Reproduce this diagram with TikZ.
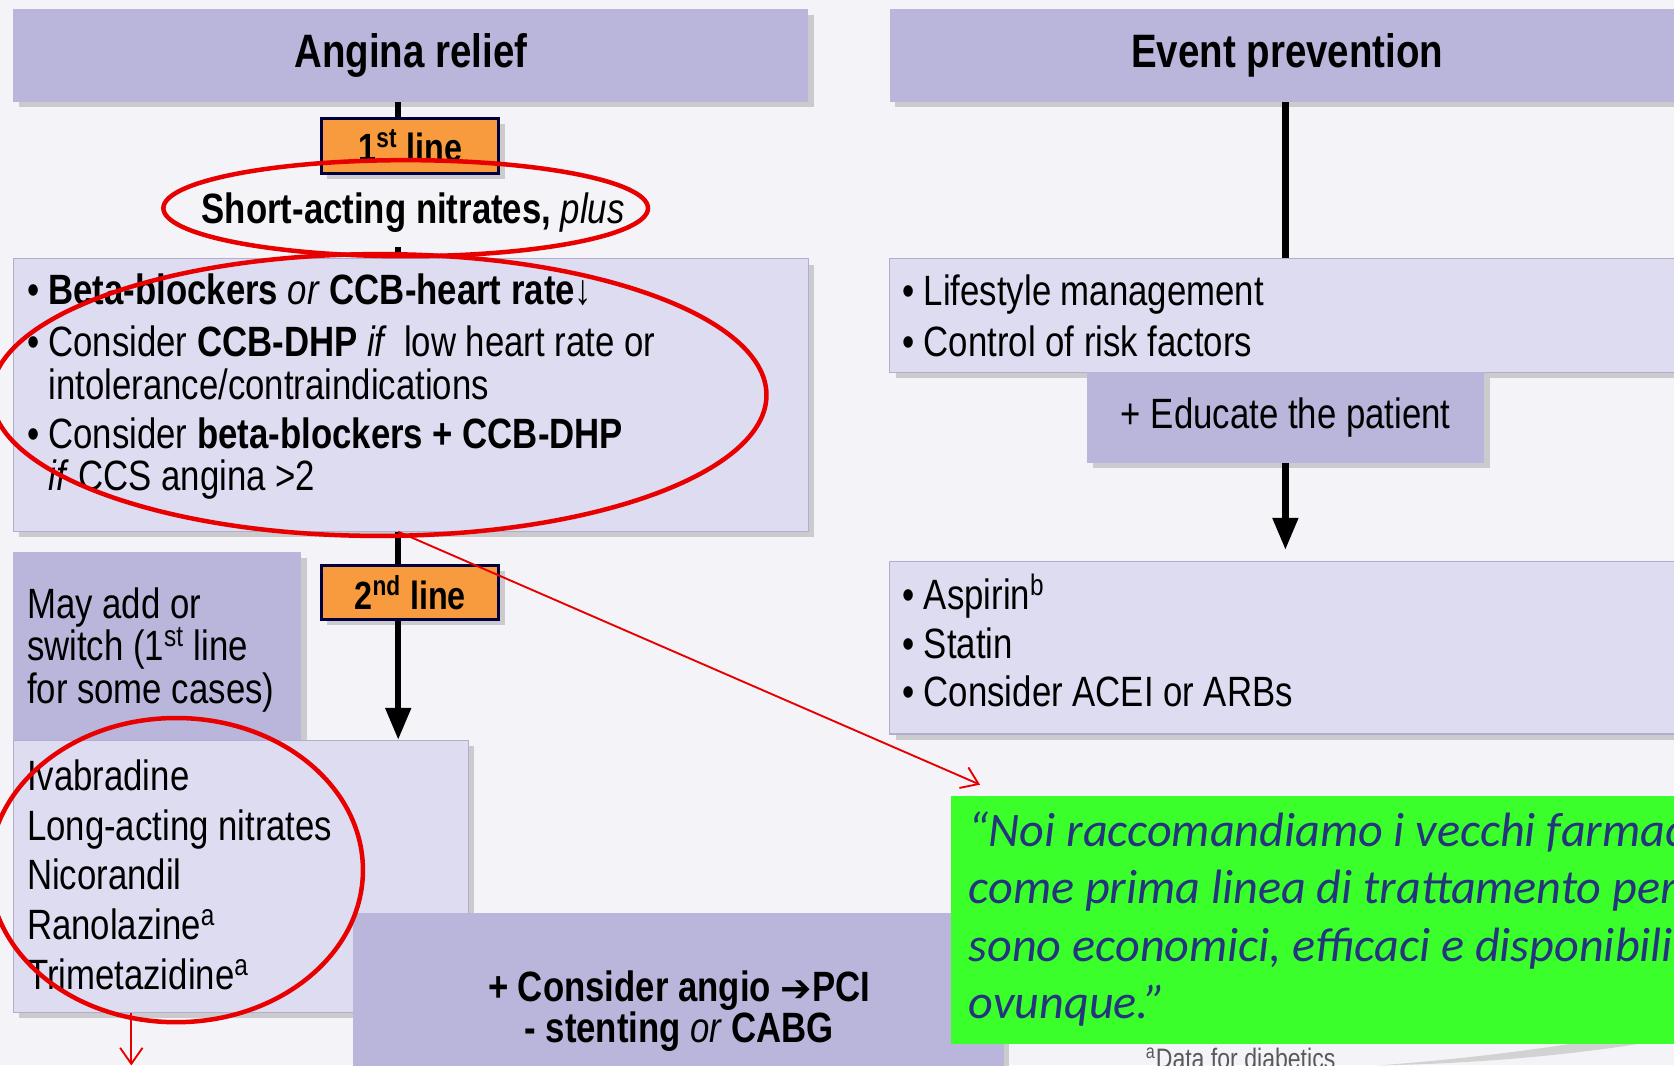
\documentclass[tikz,border=0pt]{standalone}
\usepackage{fontspec}
\setmainfont[FakeStretch=0.82]{Liberation Sans}
\newfontfamily\quotefont{Carlito}
\newfontfamily\arrowfont{DejaVu Sans}
\usetikzlibrary{arrows.meta,positioning,shapes.geometric,shadows}

\definecolor{hdrblue}{RGB}{185,181,219}
\definecolor{paleblue}{RGB}{222,220,240}
\definecolor{lineorange}{RGB}{247,155,62}
\definecolor{quotegreen}{RGB}{58,255,42}
\definecolor{quoteink}{RGB}{36,52,125}
\definecolor{bgpaper}{RGB}{244,243,247}
\definecolor{ringred}{RGB}{232,0,0}

\newcommand\bul{\makebox[0.4cm][l]{•}}
\newcommand\hang{\hspace*{0.4cm}}

\begin{document}
\lineskiplimit=-8pt
\begin{tikzpicture}[x=0.02cm,y=-0.02cm]
    \tikzset{box/.style= {rectangle, anchor=north west, inner sep=0pt
    , drop shadow={shadow xshift=3pt, shadow yshift=-3pt, opacity=0.35}
      }
    , hdr/.style={box, fill=hdrblue
    , font=\fontsize{25}{30}\selectfont\bfseries}
    , pale/.style={box, fill=paleblue, draw=hdrblue!85!gray, line width=0.6pt}
    , deep/.style={box, fill=hdrblue}
    , linetag/.style={box, fill=lineorange, draw=black!75!blue, line width=1.5pt
    , minimum width=3.32cm, minimum height=1.02cm
    , font=\fontsize{21}{24}\selectfont\bfseries}
    , txt/.style={anchor=north west, inner sep=0pt, align=left
    , font=\fontsize{22.6}{22.7}\selectfont}
    , ring/.style={ellipse, draw=ringred, line width=2.4pt, inner sep=0pt}
    , trunk/.style={black, line width=3.4pt}
    , trunkarrow/.style={trunk, -{Triangle[length=0.6cm,width=0.46cm]}}
    , pointer/.style={ringred, line width=1pt, -{Straight Barb[length=0.3cm,width=0.42cm]}}
    }

\useasboundingbox (0,0) rectangle (1568,998);
\clip (0,0) rectangle (1568,998);
\fill[bgpaper] (0,0) rectangle (1568,998);
\fill[gray!35] (1290,998) .. controls (1400,990) and (1500,975) .. (1568,960)
  -- (1568,972) .. controls (1500,985) and (1400,996) .. (1290,998) -- cycle;

\coordinate (spineL) at (373,0);
\coordinate (spineR) at (1204,0);

% left column: angina relief
\node[hdr, minimum width=14.9cm, minimum height=1.74cm] (angina) at (12,8) {Angina relief};
\node[linetag] (first) at (300,110) {1\textsuperscript{st} line};
\node[inner sep=0pt, minimum height=1.28cm, font=\fontsize{22.6}{26}\selectfont\bfseries]
  (shortact) at (387,199) {Short-acting nitrates, {\normalfont\itshape plus}};

\node[pale, minimum width=14.9cm, minimum height=5.1cm] (stepone) at (12,242) {};
\node[txt] (steponetxt) at (25,256) {\bul\textbf{Beta-blockers} \textit{or} \textbf{CCB-heart rate↓}\\[0.18cm]
  \bul Consider \textbf{CCB-DHP} \textit{if}\, low heart rate or\\
  \hang intolerance/contraindications\\[0.12cm]
  \bul Consider \textbf{beta-blockers + CCB-DHP}\\
  \hang\textit{if} CCS angina >2};

\node[linetag] (second) at (300,528) {2\textsuperscript{nd} line};
\node[deep, minimum width=5.4cm, minimum height=3.52cm] (mayadd) at (12,517) {};
\node[txt] (mayaddtxt) at (25,550) {May add or\\ switch (1\textsuperscript{st} line\\ for some cases)};

\node[pale, minimum width=8.52cm, minimum height=5.1cm] (steptwo) at (12,693) {};
\node[txt, font=\fontsize{22.6}{26.6}\selectfont] (steptwotxt) at (25,711)
  {Ivabradine\\ Long-acting nitrates\\ Nicorandil\\ Ranolazine\textsuperscript{a}\\ Trimetazidine\textsuperscript{a}};

\node[deep, minimum width=12.2cm, minimum height=3.2cm] (angio) at (330,855) {};
\node[inner sep=0pt, align=center, font=\fontsize{22.6}{21.5}\selectfont\bfseries]
  (angiotxt) at (636,947) {+ Consider angio {\arrowfont\fontsize{20}{20}\selectfont ➔}PCI\\ - stenting {\normalfont\itshape or} CABG};

\draw[trunk] (angina.south -| spineL) -- (first.north -| spineL);
\draw[trunk] (shortact.south -| spineL) -- (stepone.north -| spineL);
\draw[trunk] (stepone.south -| spineL) -- (second.north -| spineL);
\draw[trunkarrow] (second.south -| spineL) -- (steptwo.north -| spineL);

% right column: event prevention
\node[hdr, minimum width=14.9cm, minimum height=1.74cm] (event) at (833,8) {Event prevention};
\node[pale, minimum width=15.34cm, minimum height=2.12cm] (lifestyle) at (833,242) {};
\node[txt, font=\fontsize{22.6}{27.2}\selectfont] (lifestyletxt) at (845,257)
  {\bul Lifestyle management\\ \bul Control of risk factors};
\node[deep, minimum width=7.44cm, minimum height=1.7cm, font=\fontsize{22.6}{26}\selectfont]
  (educate) at (1018,348) {+ Educate the patient};
\node[pale, minimum width=15.34cm, minimum height=3.24cm] (drugs) at (833,525) {};
\node[txt, font=\fontsize{22.6}{26}\selectfont] (drugstxt) at (845,537)
  {\bul Aspirin\textsuperscript{b}\\ \bul Statin\\ \bul Consider ACEI or ARBs};

\draw[trunk] (event.south -| spineR) -- (lifestyle.north -| spineR);
\draw[trunkarrow, shorten >=0.2cm] (educate.south -| spineR) -- (drugs.north -| spineR);

% quote and footnote
\node[anchor=north west, inner sep=0pt, fill=quotegreen, minimum width=14.2cm, minimum height=4.66cm]
  (quote) at (890,745) {};
\node[anchor=north west, inner sep=0pt, align=left, text=quoteink
  , font=\quotefont\itshape\fontsize{25.7}{30.6}\selectfont]
  (quotetxt) at (907,760) {“Noi raccomandiamo i vecchi farmaci\\ come prima linea di trattamento perché\\
  sono economici, efficaci e disponibili\\ ovunque.”};
\node[anchor=north west, inner sep=0pt, text=black!65, font=\fontsize{15}{18}\selectfont]
  (footnote) at (1073,981) {\textsuperscript{a}Data for diabetics};

% red marks
\node[ring, minimum width=9.08cm, minimum height=1.8cm] (ringzero) at (380,195) {};
\node[ring, minimum width=14.52cm, minimum height=5.28cm] (ringone) at (355,370) {};
\node[ring, minimum width=7.0cm, minimum height=5.7cm] (ringtwo) at (165,815) {};
\coordinate (quotetip) at (918,735);
\coordinate (downtip) at (123,998);
\draw[pointer] (stepone.south -| spineL) -- (quotetip);
\draw[pointer] (steptwo.south -| downtip) -- (downtip);
\end{tikzpicture}
\end{document}
